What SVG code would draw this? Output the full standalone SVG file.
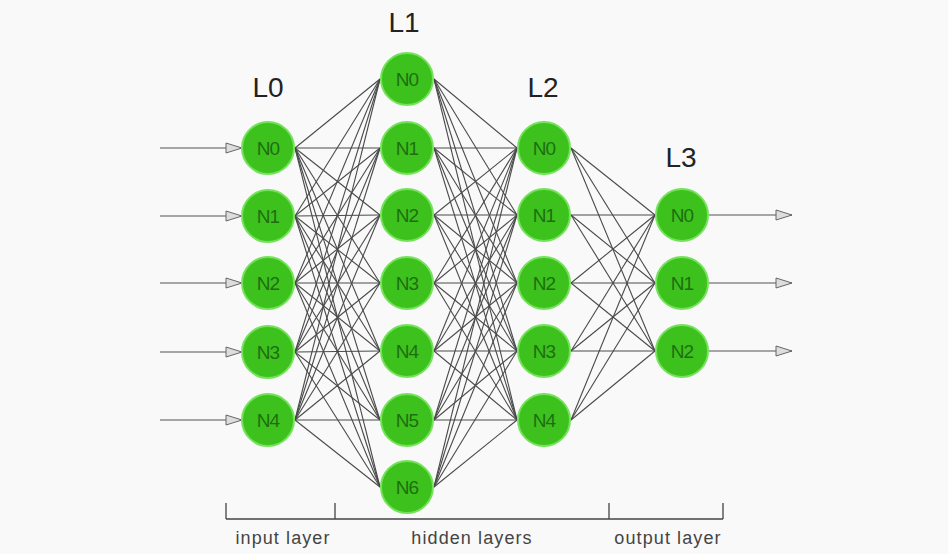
<svg xmlns="http://www.w3.org/2000/svg" width="948" height="554" viewBox="0 0 948 554">
<style>
.bg{fill:#f9f9f9}
.e line{stroke:#4a4a4a;stroke-width:1.1}
.io{stroke:#555;stroke-width:1.2;fill:none}
.n circle{fill:#3dc21d;stroke:#74e25a;stroke-width:2}
.n text{font-family:"Liberation Sans",Arial,sans-serif;font-size:19px;letter-spacing:-1px;fill:#1f6e12;text-anchor:middle;dominant-baseline:central}
.lt{font-family:"Liberation Sans",Arial,sans-serif;font-size:28px;fill:#222;text-anchor:middle}
.ax{stroke:#444;stroke-width:1.3;fill:none}
.at{font-family:"Liberation Sans",Arial,sans-serif;font-size:18px;letter-spacing:1.1px;fill:#444;text-anchor:middle}
</style>
<defs>
<marker id="ah" markerUnits="userSpaceOnUse" markerWidth="18" markerHeight="12" refX="17" refY="6" orient="auto">
<path d="M1,1 L17,6 L1,11 Z" fill="#ddd" stroke="#666" stroke-width="1"/>
</marker>
</defs>
<rect class="bg" x="0" y="0" width="948" height="554"/>
<g id="connectors" class="e">
<line x1="295" y1="148" x2="380" y2="79"/><line x1="295" y1="148" x2="380" y2="148"/><line x1="295" y1="148" x2="380" y2="215"/><line x1="295" y1="148" x2="380" y2="283"/><line x1="295" y1="148" x2="380" y2="351"/><line x1="295" y1="148" x2="380" y2="420"/><line x1="295" y1="148" x2="380" y2="487"/>
<line x1="295" y1="216" x2="380" y2="79"/><line x1="295" y1="216" x2="380" y2="148"/><line x1="295" y1="216" x2="380" y2="215"/><line x1="295" y1="216" x2="380" y2="283"/><line x1="295" y1="216" x2="380" y2="351"/><line x1="295" y1="216" x2="380" y2="420"/><line x1="295" y1="216" x2="380" y2="487"/>
<line x1="295" y1="283" x2="380" y2="79"/><line x1="295" y1="283" x2="380" y2="148"/><line x1="295" y1="283" x2="380" y2="215"/><line x1="295" y1="283" x2="380" y2="283"/><line x1="295" y1="283" x2="380" y2="351"/><line x1="295" y1="283" x2="380" y2="420"/><line x1="295" y1="283" x2="380" y2="487"/>
<line x1="295" y1="352" x2="380" y2="79"/><line x1="295" y1="352" x2="380" y2="148"/><line x1="295" y1="352" x2="380" y2="215"/><line x1="295" y1="352" x2="380" y2="283"/><line x1="295" y1="352" x2="380" y2="351"/><line x1="295" y1="352" x2="380" y2="420"/><line x1="295" y1="352" x2="380" y2="487"/>
<line x1="295" y1="420" x2="380" y2="79"/><line x1="295" y1="420" x2="380" y2="148"/><line x1="295" y1="420" x2="380" y2="215"/><line x1="295" y1="420" x2="380" y2="283"/><line x1="295" y1="420" x2="380" y2="351"/><line x1="295" y1="420" x2="380" y2="420"/><line x1="295" y1="420" x2="380" y2="487"/>
<line x1="434" y1="79" x2="517" y2="148"/><line x1="434" y1="79" x2="517" y2="215"/><line x1="434" y1="79" x2="517" y2="283"/><line x1="434" y1="79" x2="517" y2="351"/><line x1="434" y1="79" x2="517" y2="420"/>
<line x1="434" y1="148" x2="517" y2="148"/><line x1="434" y1="148" x2="517" y2="215"/><line x1="434" y1="148" x2="517" y2="283"/><line x1="434" y1="148" x2="517" y2="351"/><line x1="434" y1="148" x2="517" y2="420"/>
<line x1="434" y1="215" x2="517" y2="148"/><line x1="434" y1="215" x2="517" y2="215"/><line x1="434" y1="215" x2="517" y2="283"/><line x1="434" y1="215" x2="517" y2="351"/><line x1="434" y1="215" x2="517" y2="420"/>
<line x1="434" y1="283" x2="517" y2="148"/><line x1="434" y1="283" x2="517" y2="215"/><line x1="434" y1="283" x2="517" y2="283"/><line x1="434" y1="283" x2="517" y2="351"/><line x1="434" y1="283" x2="517" y2="420"/>
<line x1="434" y1="351" x2="517" y2="148"/><line x1="434" y1="351" x2="517" y2="215"/><line x1="434" y1="351" x2="517" y2="283"/><line x1="434" y1="351" x2="517" y2="351"/><line x1="434" y1="351" x2="517" y2="420"/>
<line x1="434" y1="420" x2="517" y2="148"/><line x1="434" y1="420" x2="517" y2="215"/><line x1="434" y1="420" x2="517" y2="283"/><line x1="434" y1="420" x2="517" y2="351"/><line x1="434" y1="420" x2="517" y2="420"/>
<line x1="434" y1="487" x2="517" y2="148"/><line x1="434" y1="487" x2="517" y2="215"/><line x1="434" y1="487" x2="517" y2="283"/><line x1="434" y1="487" x2="517" y2="351"/><line x1="434" y1="487" x2="517" y2="420"/>
<line x1="571" y1="148" x2="655" y2="215"/><line x1="571" y1="148" x2="655" y2="283"/><line x1="571" y1="148" x2="655" y2="351"/>
<line x1="571" y1="215" x2="655" y2="215"/><line x1="571" y1="215" x2="655" y2="283"/><line x1="571" y1="215" x2="655" y2="351"/>
<line x1="571" y1="283" x2="655" y2="215"/><line x1="571" y1="283" x2="655" y2="283"/><line x1="571" y1="283" x2="655" y2="351"/>
<line x1="571" y1="351" x2="655" y2="215"/><line x1="571" y1="351" x2="655" y2="283"/><line x1="571" y1="351" x2="655" y2="351"/>
<line x1="571" y1="420" x2="655" y2="215"/><line x1="571" y1="420" x2="655" y2="283"/><line x1="571" y1="420" x2="655" y2="351"/>
<path class="io" marker-end="url(#ah)" d="M160,148 L242,148"/>
<path class="io" marker-end="url(#ah)" d="M160,216 L242,216"/>
<path class="io" marker-end="url(#ah)" d="M160,283 L242,283"/>
<path class="io" marker-end="url(#ah)" d="M160,352 L242,352"/>
<path class="io" marker-end="url(#ah)" d="M160,420 L242,420"/>
<path class="io" marker-end="url(#ah)" d="M709,215 L792,215"/>
<path class="io" marker-end="url(#ah)" d="M709,283 L792,283"/>
<path class="io" marker-end="url(#ah)" d="M709,351 L792,351"/>
</g>
<g id="L0">
<text class="lt" x="268" y="97">L0</text>
<g id="L0N0" class="n"><circle cx="268" cy="148" r="26"/><text x="268" y="148">N0</text></g>
<g id="L0N1" class="n"><circle cx="268" cy="216" r="26"/><text x="268" y="216">N1</text></g>
<g id="L0N2" class="n"><circle cx="268" cy="283" r="26"/><text x="268" y="283">N2</text></g>
<g id="L0N3" class="n"><circle cx="268" cy="352" r="26"/><text x="268" y="352">N3</text></g>
<g id="L0N4" class="n"><circle cx="268" cy="420" r="26"/><text x="268" y="420">N4</text></g>
</g>
<g id="L1">
<text class="lt" x="404" y="32">L1</text>
<g id="L1N0" class="n"><circle cx="407" cy="79" r="26"/><text x="407" y="79">N0</text></g>
<g id="L1N1" class="n"><circle cx="407" cy="148" r="26"/><text x="407" y="148">N1</text></g>
<g id="L1N2" class="n"><circle cx="407" cy="215" r="26"/><text x="407" y="215">N2</text></g>
<g id="L1N3" class="n"><circle cx="407" cy="283" r="26"/><text x="407" y="283">N3</text></g>
<g id="L1N4" class="n"><circle cx="407" cy="351" r="26"/><text x="407" y="351">N4</text></g>
<g id="L1N5" class="n"><circle cx="407" cy="420" r="26"/><text x="407" y="420">N5</text></g>
<g id="L1N6" class="n"><circle cx="407" cy="487" r="26"/><text x="407" y="487">N6</text></g>
</g>
<g id="L2">
<text class="lt" x="543" y="97">L2</text>
<g id="L2N0" class="n"><circle cx="544" cy="148" r="26"/><text x="544" y="148">N0</text></g>
<g id="L2N1" class="n"><circle cx="544" cy="215" r="26"/><text x="544" y="215">N1</text></g>
<g id="L2N2" class="n"><circle cx="544" cy="283" r="26"/><text x="544" y="283">N2</text></g>
<g id="L2N3" class="n"><circle cx="544" cy="351" r="26"/><text x="544" y="351">N3</text></g>
<g id="L2N4" class="n"><circle cx="544" cy="420" r="26"/><text x="544" y="420">N4</text></g>
</g>
<g id="L3">
<text class="lt" x="681" y="167">L3</text>
<g id="L3N0" class="n"><circle cx="682" cy="215" r="26"/><text x="682" y="215">N0</text></g>
<g id="L3N1" class="n"><circle cx="682" cy="283" r="26"/><text x="682" y="283">N1</text></g>
<g id="L3N2" class="n"><circle cx="682" cy="351" r="26"/><text x="682" y="351">N2</text></g>
</g>
<g id="axis">
<path class="ax" d="M226,519 L723,519 M226,503 L226,519 M335,503 L335,519 M609,503 L609,519 M723,503 L723,519"/>
<text class="at" x="283" y="544">input layer</text>
<text class="at" x="472" y="544">hidden layers</text>
<text class="at" x="668" y="544">output layer</text>
</g>
</svg>
